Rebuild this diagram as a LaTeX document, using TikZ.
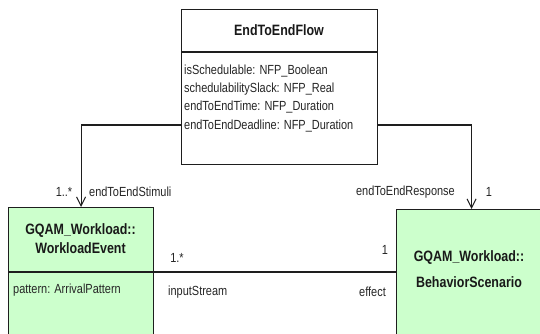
\documentclass[tikz,border=0pt]{standalone}
\usepackage{fontspec}
\setmainfont{Liberation Sans}[FakeStretch=0.83]
\usetikzlibrary{arrows.meta}
\definecolor{umlgreen}{RGB}{204,255,204}
\definecolor{umlline}{RGB}{30,30,30}
\tikzset{
  classbox/.style={draw=umlline, line width=1.1pt, rectangle, anchor=north west, inner sep=0pt},
  titletext/.style={font=\bfseries\fontsize{15}{16}\selectfont, align=center, inner sep=0pt, text=black!90},
  attrtext/.style={font=\fontsize{13.2}{14}\selectfont, anchor=west, inner sep=0pt, text=black!85},
  labeltext/.style={font=\fontsize{13.2}{14}\selectfont, inner sep=0pt, text=black!85},
  assoc/.style={draw=umlline, line width=1.1pt},
  navarrow/.style={assoc, -{Straight Barb[length=9pt,width=9pt,line width=1pt]}}
}
\begin{document}
\begin{tikzpicture}[x=1pt,y=-1pt]
\clip (0,0) rectangle (540,334);
\fill[white] (0,0) rectangle (540,334);
% classes
\node[classbox, fill=white, minimum width=196pt, minimum height=155pt] (flow) at (181,9) {};
\node[classbox, fill=umlgreen, minimum width=145pt, minimum height=140pt] (wev) at (8,207) {};
\node[classbox, fill=umlgreen, minimum width=150pt, minimum height=135pt] (beh) at (396,209) {};
% compartments
\coordinate (flowsep) at (0,52);
\coordinate (wevsep) at (0,272);
\coordinate (row) at (0,125);
\draw[assoc] (flow.west |- flowsep) -- (flow.east |- flowsep);
\draw[assoc] (wev.west |- wevsep) -- (wev.east |- wevsep);
% texts in classes
\node[titletext] (flowtitle) at (279,30) {EndToEndFlow};
\node[attrtext] (a1) at (184,71) {isSchedulable: NFP\_Boolean};
\node[attrtext] (a2) at (184,89) {schedulabilitySlack: NFP\_Real};
\node[attrtext] (a3) at (184,107) {endToEndTime: NFP\_Duration};
\node[attrtext] (a4) at (184,126) {endToEndDeadline: NFP\_Duration};
\node[titletext] (wevt1) at (80.5,231) {GQAM\_Workload::};
\node[titletext] (wevt2) at (80.5,248) {WorkloadEvent};
\node[attrtext] (wevattr) at (13,290) {pattern: ArrivalPattern};
\node[titletext] (beht1) at (469,258) {GQAM\_Workload::};
\node[titletext] (beht2) at (469,282) {BehaviorScenario};
% associations
\draw[navarrow] (flow.west |- row) -| (wev.north);
\draw[navarrow] (flow.east |- row) -| (beh.north);
\draw[assoc] (wev.east |- wevsep) -- (beh.west |- wevsep);
% labels
\node[labeltext] (m1) at (64,192) {1..*};
\node[labeltext, anchor=west] (r1) at (89,192) {endToEndStimuli};
\node[labeltext, anchor=east] (r2) at (455,192) {endToEndResponse};
\node[labeltext] (m2) at (489,192) {1};
\node[labeltext] (m3) at (177,258) {1.*};
\node[labeltext, anchor=west] (r3) at (168,292) {inputStream};
\node[labeltext] (m4) at (385,250) {1};
\node[labeltext, anchor=east] (r4) at (386,292) {effect};
\end{tikzpicture}
\end{document}
